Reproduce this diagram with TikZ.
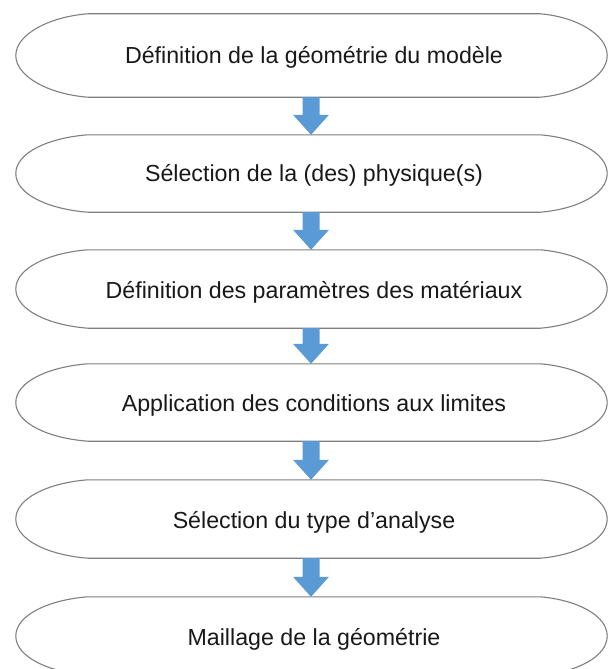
\documentclass[tikz,border=0pt]{standalone}
\usepackage{fontspec}
\setmainfont{Liberation Sans}
\usetikzlibrary{calc}

\definecolor{outlinegray}{HTML}{7F7F7F}
\definecolor{flowblue}{HTML}{5B9BD5}

\tikzset{
  stepbox/.style={inner sep=0pt, minimum width=452pt, minimum height=#1,
    font=\fontsize{23.2}{27}\selectfont, text=black!90},
  outline/.style={draw=outlinegray, line width=1.1pt, fill=white},
  flowarrow/.style={fill=flowblue},
}

% terminator-like outline (elliptic ends) around the flat part of a step node
\newcommand{\stepoutline}[1]{%
  \draw[outline] (#1.north west) -- (#1.north east)
    .. controls +(36,3) and +(0,-21) .. ($(#1.east)+(67,0)$)
    .. controls +(0,21) and +(36,-3) .. (#1.south east)
    -- (#1.south west)
    .. controls +(-39,-3) and +(0,21) .. ($(#1.west)+(-72,0)$)
    .. controls +(0,-21) and +(-39,3) .. (#1.north west) -- cycle;}

% block arrow from the bottom of one step to the top of the next
\newcommand{\stepflow}[2]{%
  \fill[flowarrow] ($(#1.south)+(-11.5,0)$) -- ($(#1.south)+(5.5,0)$)
    -- ($(#2.north)+(5.5,-20)$) -- ($(#2.north)+(15,-20)$)
    -- ($(#2.north)+(-3,0)$)
    -- ($(#2.north)+(-21,-20)$) -- ($(#2.north)+(-11.5,-20)$) -- cycle;}

\begin{document}
\begin{tikzpicture}[x=1pt,y=-1pt]
  \useasboundingbox (0,0) rectangle (608,669);
  \clip (0,0) rectangle (608,669);

  \node[stepbox=83pt] (s1) at (314,55.5) {};
  \node[stepbox=77pt] (s2) at (314,173.5) {};
  \node[stepbox=78pt] (s3) at (314,289) {};
  \node[stepbox=77pt] (s4) at (314,402.5) {};
  \node[stepbox=78pt] (s5) at (314,519) {};
  \node[stepbox=78pt] (s6) at (314,636) {};

  \foreach \n in {s1,s2,s3,s4,s5,s6} {\stepoutline{\n}}

  \node[stepbox=83pt] at ($(s1)+(0,2)$) {Définition de la géométrie du modèle};
  \node[stepbox=77pt] at ($(s2)+(0,2)$) {Sélection de la (des) physique(s)};
  \node[stepbox=78pt] at ($(s3)+(0,3)$) {Définition des paramètres des matériaux};
  \node[stepbox=77pt] at ($(s4)+(0,3)$) {Application des conditions aux limites};
  \node[stepbox=78pt] at ($(s5)+(0,3)$) {Sélection du type d'analyse};
  \node[stepbox=78pt] at ($(s6)+(0,3)$) {Maillage de la géométrie};

  \stepflow{s1}{s2}
  \stepflow{s2}{s3}
  \stepflow{s3}{s4}
  \stepflow{s4}{s5}
  \stepflow{s5}{s6}
\end{tikzpicture}
\end{document}
